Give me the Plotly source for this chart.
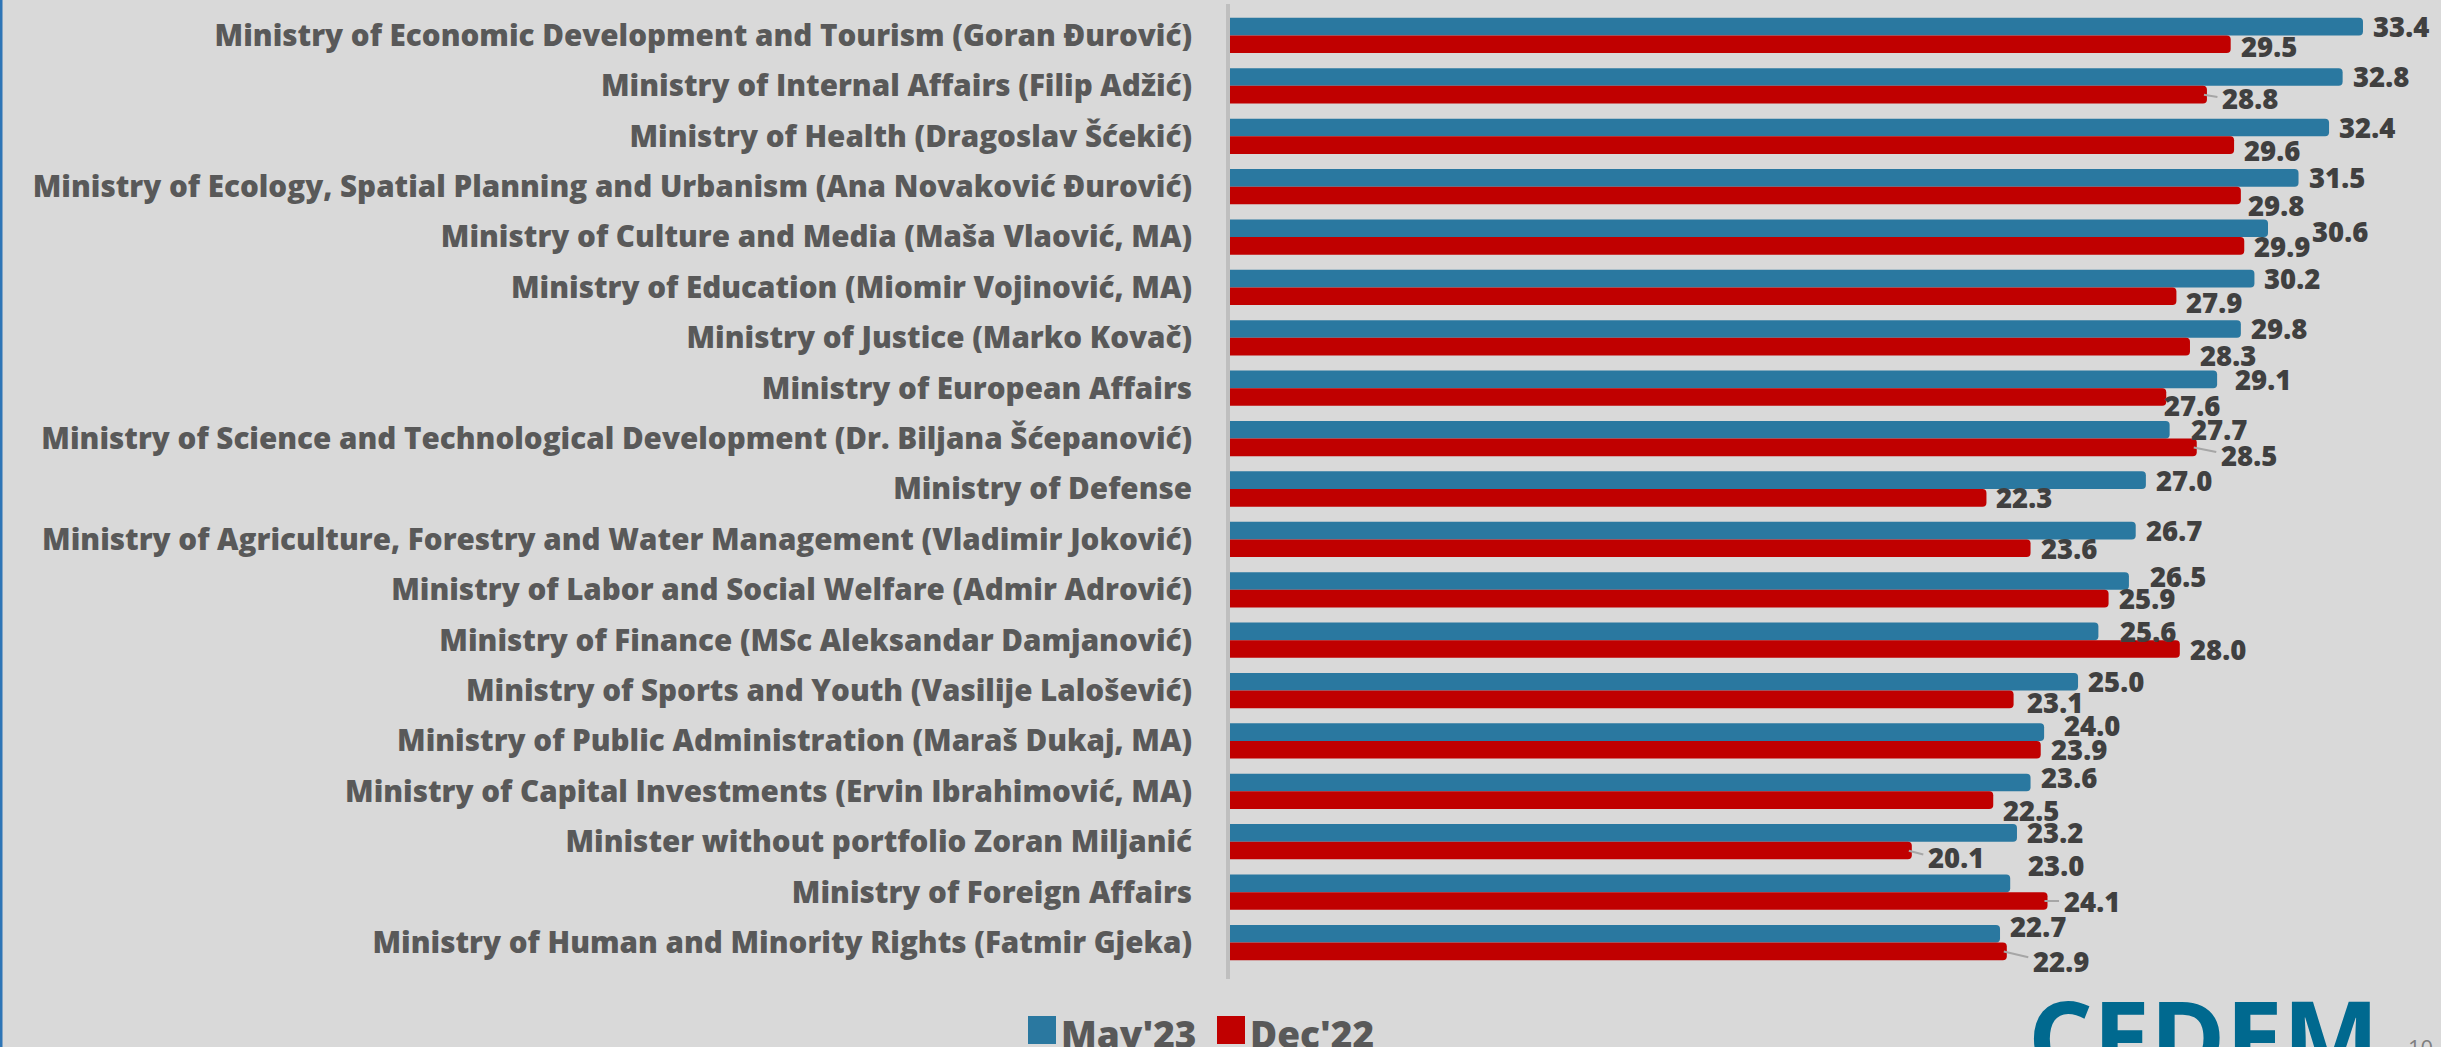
import plotly.graph_objects as go

categories = [
    "Ministry of Economic Development and Tourism (Goran Đurović)",
    "Ministry of Internal Affairs (Filip Adžić)",
    "Ministry of Health (Dragoslav Šćekić)",
    "Ministry of Ecology, Spatial Planning and Urbanism (Ana Novaković Đurović)",
    "Ministry of Culture and Media (Maša Vlaović, MA)",
    "Ministry of Education (Miomir Vojinović, MA)",
    "Ministry of Justice (Marko Kovač)",
    "Ministry of European Affairs",
    "Ministry of Science and Technological Development (Dr. Biljana Šćepanović)",
    "Ministry of Defense",
    "Ministry of Agriculture, Forestry and Water Management (Vladimir Joković)",
    "Ministry of Labor and Social Welfare (Admir Adrović)",
    "Ministry of Finance (MSc Aleksandar Damjanović)",
    "Ministry of Sports and Youth (Vasilije Lalošević)",
    "Ministry of Public Administration (Maraš Dukaj, MA)",
    "Ministry of Capital Investments (Ervin Ibrahimović, MA)",
    "Minister without portfolio Zoran Miljanić",
    "Ministry of Foreign Affairs",
    "Ministry of Human and Minority Rights (Fatmir Gjeka)",
]
may23 = [33.4, 32.8, 32.4, 31.5, 30.6, 30.2, 29.8, 29.1, 27.7, 27.0,
         26.7, 26.5, 25.6, 25.0, 24.0, 23.6, 23.2, 23.0, 22.7]
dec22 = [29.5, 28.8, 29.6, 29.8, 29.9, 27.9, 28.3, 27.6, 28.5, 22.3,
         23.6, 25.9, 28.0, 23.1, 23.9, 22.5, 20.1, 24.1, 22.9]
series_names = ["May'23", "Dec'22"]

# style
W, H = 2441, 1047
ML, MR, MT, MB = 1230, 0, 4, 68
BG = "#d9d9d9"
BLUE = "#2a78a0"
RED = "#c00000"
TXT = "#595959"
LBL = "#404040"
XMAX = 35.7
BARGAP = 0.30
FONT = "'Open Sans', Lato, sans-serif"

# label nudges in px: (dx, dy) dy positive = down
nudge_blue = {4: (34, 3), 7: (8, 0), 8: (11, 0), 11: (11, -4), 12: (12, 0),
              14: (10, -6), 15: (0, -5), 17: (8, -18), 18: (0, -7)}
nudge_red = {0: (0, 2), 1: (5, 4), 2: (0, 5), 3: (-3, 10), 5: (0, 6), 6: (0, 9),
             7: (-12, 8), 8: (14, 8), 13: (3, 3), 15: (0, 10), 16: (6, 7),
             17: (6, 0), 18: (16, 10)}
leaders_red = {1, 8, 16, 17, 18}

pw = W - ML - MR
ph = H - MT - MB
pitch = ph / len(categories)
half = (1 - BARGAP) / 4 * pitch


def px_x(p):
    return (p - ML) / pw


def px_y(p):
    return (H - MB - p) / ph


fig = go.Figure()
fig.add_trace(go.Bar(y=categories, x=may23, name=series_names[0], orientation="h",
                     marker=dict(color=BLUE, cornerradius=4, line=dict(width=0))))
fig.add_trace(go.Bar(y=categories, x=dec22, name=series_names[1], orientation="h",
                     marker=dict(color=RED, cornerradius=4, line=dict(width=0))))

GAP = 8
annotations = []
for vals, nud, base_shift, leaders in ((may23, nudge_blue, half, set()),
                                       (dec22, nudge_red, -half, leaders_red)):
    for i, (c, v) in enumerate(zip(categories, vals)):
        dx, dy = nud.get(i, (0, 0))
        annotations.append(dict(x=v, y=c, xref="x", yref="y", text=f"{v:.1f}",
                                showarrow=False, xanchor="left", yanchor="middle",
                                xshift=GAP + dx, yshift=base_shift - dy,
                                font=dict(family=FONT, size=27.5, color=LBL, weight=800)))
        if i in leaders:
            annotations.append(dict(x=v, y=c, xref="x", yref="y", text="",
                                    showarrow=True, arrowhead=0, arrowwidth=2,
                                    arrowcolor="#a6a6a6", ax=GAP + dx + 2, ay=dy * 0.6,
                                    standoff=0, startstandoff=0,
                                    xshift=-3, yshift=base_shift))

# manual legend
shapes = []
leg = [(1028, series_names[0], BLUE), (1217, series_names[1], RED)]
for x0, name, col in leg:
    shapes.append(dict(type="rect", xref="paper", yref="paper",
                       x0=px_x(x0), x1=px_x(x0 + 28), y0=px_y(1016), y1=px_y(1044),
                       fillcolor=col, line=dict(width=0)))
    annotations.append(dict(xref="paper", yref="paper", x=px_x(x0 + 31), y=px_y(1033),
                            xanchor="left", yanchor="middle", text=name, showarrow=False,
                            font=dict(family=FONT, size=37, color=TXT, weight=800)))

# left border line
shapes.append(dict(type="line", xref="paper", yref="paper", x0=px_x(1), x1=px_x(1),
                   y0=px_y(0), y1=px_y(H), line=dict(color="#2e75b6", width=3)))

# logo text and page number
annotations.append(dict(xref="paper", yref="paper", x=px_x(2026), y=px_y(964),
                        xanchor="left", yanchor="top", text="CEDEM", showarrow=False,
                        font=dict(family=FONT, size=102, color="#00698f", weight="bold")))
annotations.append(dict(xref="paper", yref="paper", x=px_x(2406), y=px_y(1030),
                        xanchor="left", yanchor="top", text="10", showarrow=False,
                        font=dict(family=FONT, size=22, color="#7f7f7f")))

fig.update_layout(
    width=W, height=H,
    margin=dict(l=ML, r=MR, t=MT, b=MB, autoexpand=False),
    paper_bgcolor=BG, plot_bgcolor=BG,
    barmode="group", bargap=BARGAP, bargroupgap=0,
    showlegend=False,
    annotations=annotations, shapes=shapes,
    xaxis=dict(range=[0, XMAX], visible=False, fixedrange=True),
    yaxis=dict(autorange="reversed", showline=True, linecolor="#bfbfbf", linewidth=4,
               ticks="outside", ticklen=28, tickcolor="rgba(0,0,0,0)",
               showgrid=False, zeroline=False, fixedrange=True,
               tickfont=dict(family=FONT, size=29.6, color=TXT, weight=800),
               automargin=False),
)

fig.write_html("out.html", config={"displayModeBar": False},
               post_script="document.body.style.margin='0';document.body.style.background='#d9d9d9';")
